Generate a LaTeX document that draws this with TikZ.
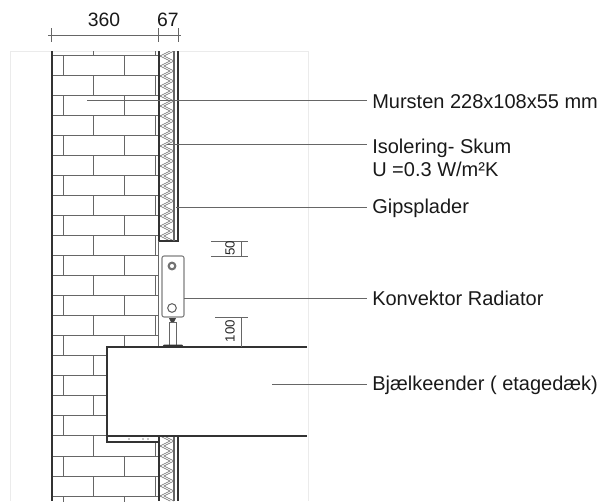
\documentclass[tikz,border=0pt]{standalone}
\usepackage{fontspec}
\setmainfont{Liberation Sans}

\begin{document}
\begin{tikzpicture}[x=0.75pt,y=-0.75pt]
                    \tikzstyle{brick}=[draw=black!60,line width=0.75pt]
                    \tikzstyle{wall}=[draw=black!80,line width=1.5pt]
                    \tikzstyle{foam}=[draw=black!60,line width=0.45pt]
                    \tikzstyle{faint}=[draw=black!8,line width=0.6pt]
                    \tikzstyle{dim}=[draw=black!60,line width=0.5pt]
                    \tikzstyle{leader}=[draw=black!60,line width=0.7pt]
                    \tikzstyle{callout}=[anchor=west,inner sep=0pt,text=black!90,font=\fontsize{15}{17.25}\selectfont,align=left]
                    \tikzstyle{toplabel}=[inner sep=0pt,text=black!90,font=\fontsize{14.5}{17}\selectfont]
                    \tikzstyle{smalllabel}=[inner sep=0pt,rotate=90,text=black!85,font=\fontsize{10}{12}\selectfont]
                    \useasboundingbox (0,0) rectangle (600,501);
                    \draw[faint] (10,501) -- (10,51) -- (308,51) -- (308,501);
                    \foreach \k in {0,...,22} {
                        \draw[brick] (51,{55+20.05*\k}) -- (158,{55+20.05*\k});
                    }
                    \foreach \k in {0,2,...,22} {
                        \draw[brick] (63,{55+20.05*\k}) -- (63,{75.05+20.05*\k});
                        \draw[brick] (124,{55+20.05*\k}) -- (124,{75.05+20.05*\k});
                    }
                    \foreach \k in {-1,1,...,21} {
                        \draw[brick] (93,{55+20.05*\k}) -- (93,{75.05+20.05*\k});
                        \draw[brick] (155,{55+20.05*\k}) -- (155,{75.05+20.05*\k});
                    }
                    \fill[white] (0,0) rectangle (600,51);
                    \fill[white] (158,51) rectangle (174,501);
                    \begin{scope}
                        \clip (160,51) rectangle (174,241) (160,436) rectangle (174,501);
                        \foreach \y in {46,56,...,496} {
                            \draw[foam] (160,\y) -- (170,\y+5) -- (160,\y+10);
                            \draw[foam] (174,\y+5) -- (164,\y+10) -- (174,\y+15);
                        }
                    \end{scope}
                    \draw[wall] (51.5,51) -- (51.5,501);
                    \draw[wall] (159,51) -- (159,241) -- (178,241) -- (178,51);
                    \draw[foam,line width=1pt] (174,51) -- (174,241);
                    \draw[brick] (158,241) -- (158,347);
                    \draw[wall] (159,436) -- (159,501);
                    \draw[foam,line width=1pt] (174,436) -- (174,501);
                    \draw[wall] (178,436) -- (178,501);
                    \node[draw=black!50,line width=0.8pt,rounded corners=1.5pt,minimum width=16.5pt,minimum height=45.75pt,inner sep=0pt] (radiator) at (173,286.5) {};
                    \node[circle,draw=black!55,line width=1.6pt,minimum size=5pt,inner sep=0pt] (ventil) at (172,266) {};
                    \node[circle,draw=black!60,line width=0.8pt,minimum size=6.5pt,inner sep=0pt] (prop) at (172,308) {};
                    \fill[black!75] (169,318) -- (176,318) -- (174,322) -- (171,322) -- cycle;
                    \draw[brick] (169,345) -- (169,322) -- (176,322) -- (176,345);
                    \fill[black!80] (162,347) -- (164,344.5) -- (182,344.5) -- (184,347) -- cycle;
                    \fill[white] (107,347) rectangle (307,436);
                    \fill[white] (107,436) rectangle (158,441);
                    \draw[wall] (307,347) -- (107,347) -- (107,436) -- (307,436);
                    \draw[wall,line width=1pt] (107,436) -- (107,442) -- (158,442);
                    \foreach \x in {129,143,148} {
                        \fill[black!45] (\x,439) circle (0.6pt);
                    }
                    \coordinate (a) at (48,35);
                    \coordinate (b) at (181,35);
                    \draw[dim] (a) -- (b);
                    \foreach \x in {51,158,178} {
                        \draw[dim] (\x,28) -- (\x,42);
                    }
                    \node[toplabel] (maal360) at (104,19.5) {360};
                    \node[toplabel] (maal67) at (168,19.5) {67};
                    \draw[dim] (211,241) -- (248,241);
                    \draw[dim] (211,256) -- (248,256);
                    \draw[dim] (241,241) -- (241,256);
                    \node[smalllabel] (maal50) at (230,248.5) {50};
                    \draw[dim] (215,317) -- (248,317);
                    \draw[dim] (241,317) -- (241,347);
                    \node[smalllabel] (maal100) at (230,331) {100};
                    \node[callout] (mursten) at (372,102) {Mursten 228x108x55 mm};
                    \node[callout] (isolering) at (372,157.5) {Isolering- Skum\\U =0.3 W/m²K};
                    \node[callout] (gips) at (372,208.5) {Gipsplader};
                    \node[callout] (konvektor) at (372,298.5) {Konvektor Radiator};
                    \node[callout] (bjaelke) at (372,385) {Bjælkeender ( etagedæk)};
                    \coordinate (pm) at (87,100.5);
                    \coordinate (pi) at (167,144);
                    \coordinate (pg) at (176,207);
                    \coordinate (pk) at (184,298);
                    \coordinate (pb) at (272,384);
                    \draw[leader] (pm) -- (367,100.5);
                    \draw[leader] (pi) -- (367,144);
                    \draw[leader] (pg) -- (367,207);
                    \draw[leader] (pk) -- (367,298);
                    \draw[leader] (pb) -- (367,384);
                \end{tikzpicture}
\end{document}
